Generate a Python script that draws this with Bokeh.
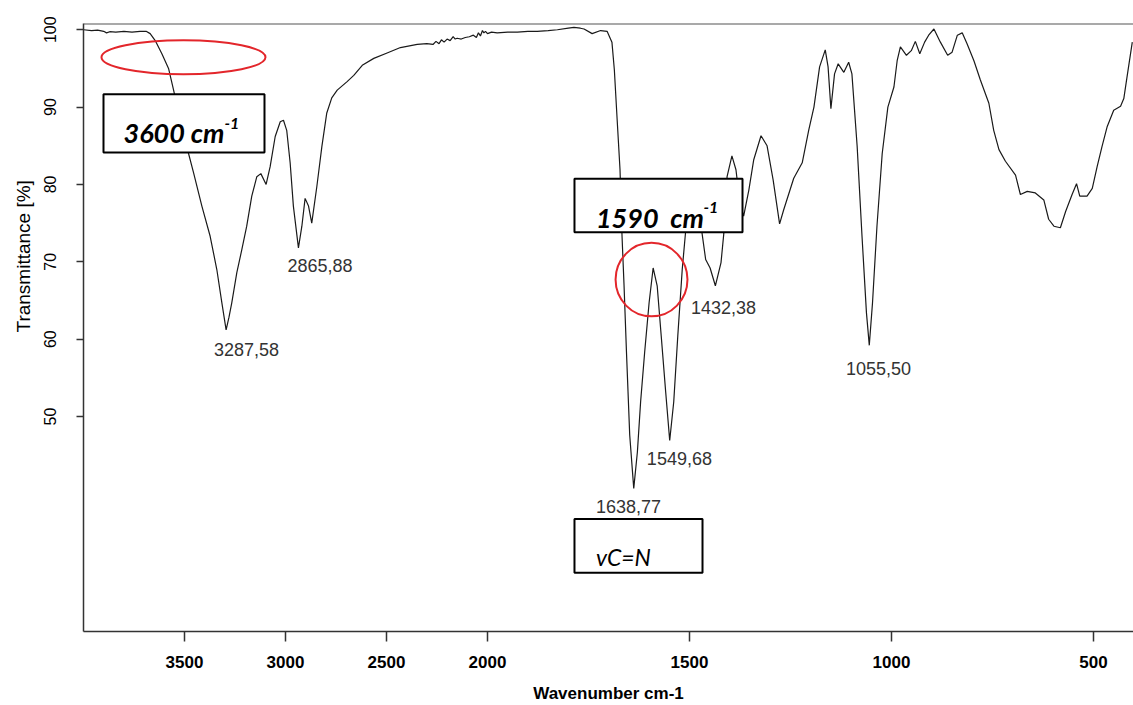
import numpy as np
from bokeh.plotting import figure
from bokeh.models import Range1d, FixedTicker, Span, Title
from bokeh.embed import file_html
from bokeh.resources import INLINE
from bokeh.core.properties import value

# ---------------- data ----------------
wavenumber = [
    4000, 3960, 3930, 3900, 3886, 3870, 3840, 3800, 3760, 3720, 3690, 3670, 3645, 3612, 3579,
    3554, 3521, 3480, 3455, 3414, 3373, 3340, 3315, 3294, 3280, 3266, 3241, 3216, 3192, 3167,
    3142, 3122, 3096, 3076, 3051, 3026, 3010, 2994, 2977, 2961, 2936, 2919, 2903, 2886, 2870,
    2845, 2820, 2796, 2771, 2744, 2695, 2662, 2620, 2563, 2497, 2431, 2348, 2300, 2270, 2255,
    2240, 2228, 2215, 2200, 2185, 2170, 2160, 2150, 2130, 2110, 2090, 2070, 2055, 2045, 2035,
    2025, 2018, 2010, 2000, 1990, 1976, 1950, 1926, 1900, 1877, 1850, 1827, 1800, 1786, 1770,
    1761, 1741, 1720, 1704, 1692, 1686, 1679, 1672, 1667, 1662, 1656, 1648, 1638, 1629, 1621,
    1611, 1600, 1590, 1580, 1570, 1559, 1549, 1539, 1529, 1518, 1510, 1498, 1489, 1480, 1469,
    1460, 1449, 1436, 1422, 1415, 1407, 1395, 1385, 1375, 1366, 1353, 1341, 1323, 1308, 1293,
    1277, 1267, 1242, 1221, 1205, 1192, 1178, 1164, 1157, 1150, 1141, 1132, 1118, 1106, 1098,
    1085, 1073, 1062, 1055, 1047, 1036, 1023, 1009, 994, 986, 978, 963, 951, 941, 930,
    918, 908, 895, 879, 861, 850, 837, 825, 813, 796, 780, 759, 747, 734, 718,
    693, 681, 664, 644, 623, 611, 598, 582, 569, 553, 542, 534, 516, 503, 491,
    479, 466, 450, 433, 425, 417, 404,
]
transmittance = [
    100.0, 99.9, 99.95, 99.8, 99.6, 99.75, 99.7, 99.8, 99.7, 99.8, 99.8, 99.5, 98.6, 96.9, 95.0,
    92.2, 88.3, 84.0, 81.5, 77.2, 73.3, 69.0, 64.7, 61.2, 62.8, 64.7, 68.6, 71.6, 74.6, 78.5,
    81.0, 81.4, 80.0, 82.3, 86.2, 88.1, 88.3, 87.0, 82.8, 77.2, 71.8, 74.6, 78.2, 77.2, 75.0,
    79.7, 84.9, 89.2, 91.2, 92.2, 93.3, 94.1, 95.4, 96.3, 97.0, 97.7, 98.1, 98.2, 98.1, 98.5,
    98.2, 98.7, 98.4, 98.8, 98.6, 99.1, 98.8, 98.9, 98.8, 99.0, 99.1, 99.3, 99.0, 99.6, 99.2,
    99.9, 99.6, 99.8, 99.5, 99.7, 99.6, 99.7, 99.7, 99.8, 99.8, 99.9, 100.0, 100.2, 100.3, 100.2,
    100.1, 99.5, 99.9, 99.8, 98.4, 94.8, 88.3, 81.9, 73.3, 66.9, 58.3, 47.6, 40.7, 45.4, 51.9,
    58.3, 64.7, 69.2, 66.9, 60.4, 53.2, 46.9, 51.9, 60.4, 69.0, 73.7, 78.0, 79.0, 77.5, 73.7,
    70.3, 69.2, 66.9, 69.9, 73.7, 81.0, 83.7, 81.9, 77.5, 75.9, 79.3, 83.2, 86.3, 85.0, 80.6,
    74.9, 76.7, 80.8, 82.8, 87.0, 90.0, 95.2, 97.4, 95.2, 89.8, 94.3, 95.6, 94.5, 95.8, 94.3,
    84.9, 73.3, 63.4, 59.2, 64.7, 74.6, 84.0, 90.0, 92.6, 96.0, 97.8, 96.7, 97.3, 98.5, 96.9,
    98.4, 99.3, 100.1, 98.4, 96.7, 97.1, 99.3, 99.6, 98.2, 96.0, 93.5, 90.5, 87.0, 84.5, 83.0,
    81.2, 78.7, 79.1, 78.9, 78.0, 75.5, 74.6, 74.4, 76.5, 78.7, 80.1, 78.5, 78.5, 79.5, 82.3,
    84.9, 87.5, 89.6, 90.1, 91.1, 93.9, 98.4,
]
peak_labels = ["3287,58", "2865,88", "1432,38", "1549,68", "1638,77", "1055,50"]
peak_label_wn = [3193, 2829, 1416, 1525, 1651, 1032]
peak_label_t = [58.7, 69.5, 64.1, 44.6, 38.3, 56.2]
x_tick_values = [3500, 3000, 2500, 2000, 1500, 1000, 500]
y_tick_values = [50, 60, 70, 80, 90, 100]


def to_axis(w):
    """Instrument axis: region above 2000 cm-1 is drawn at half scale."""
    w = np.asarray(w, dtype=float)
    return np.where(w > 2000, 2000 + (w - 2000) / 2.0, w)


FONT = "Liberation Sans"

p = figure(width=1133, height=705, output_backend="svg", toolbar_location=None,
           x_range=Range1d(3000, 401), y_range=Range1d(22.2, 100.81),
           min_border_left=83, min_border_right=0, min_border_top=23, min_border_bottom=72)
p.grid.visible = False
p.outline_line_color = None
p.background_fill_color = "white"
p.border_fill_color = "white"

# spectrum
p.line(to_axis(wavenumber), transmittance, line_color="#1a1a1a", line_width=1.2)

# top frame line
p.add_layout(Span(location=100.81, dimension="width", line_color="#555555", line_width=2))

# x axis
xt = [int(v) for v in to_axis(x_tick_values)]
p.xaxis.ticker = FixedTicker(ticks=xt)
p.xaxis.major_label_overrides = {u: str(w) for u, w in zip(xt, x_tick_values)}
p.xaxis.axis_label = "Wavenumber cm-1"
p.xaxis.axis_label_text_font = FONT
p.xaxis.axis_label_text_font_style = "bold"
p.xaxis.axis_label_text_font_size = "17px"
p.xaxis.axis_label_text_color = "black"
p.xaxis.axis_label_standoff = 13
p.xaxis.major_label_text_font = FONT
p.xaxis.major_label_text_font_style = "bold"
p.xaxis.major_label_text_font_size = "17px"
p.xaxis.major_label_text_color = "black"
p.xaxis.major_label_standoff = 14
p.xaxis.major_tick_out = 10
p.xaxis.major_tick_in = 0
p.xaxis.minor_tick_line_color = None
p.xaxis.axis_line_color = "#333333"
p.xaxis.axis_line_width = 1.5
p.xaxis.major_tick_line_color = "#333333"
p.xaxis.major_tick_line_width = 1.5

# y axis
p.yaxis.ticker = FixedTicker(ticks=y_tick_values)
p.yaxis.major_label_orientation = "vertical"
p.yaxis.major_label_text_font = FONT
p.yaxis.major_label_text_font_size = "16px"
p.yaxis.major_label_text_color = "black"
p.yaxis.major_label_standoff = 20
p.yaxis.major_tick_out = 7
p.yaxis.major_tick_in = 0
p.yaxis.minor_tick_line_color = None
p.yaxis.axis_line_color = "#333333"
p.yaxis.axis_line_width = 1.5
p.yaxis.major_tick_line_color = "#333333"
p.yaxis.major_tick_line_width = 1.5

# y axis title (placed off-centre, as in the original)
p.add_layout(Title(text="Transmittance [%]", align="left", offset=299, standoff=16,
                   text_font=FONT, text_font_size="19px", text_font_style="normal",
                   text_color="black"), "left")

# peak labels
p.text(x=to_axis(peak_label_wn), y=peak_label_t, text=peak_labels,
       text_align="center", text_baseline="middle",
       text_font=value(FONT), text_font_size="18px", text_color="#333333")

# red highlight marks
p.ellipse(x=[2752.5], y=[96.44], width=[406], height=[4.38],
          fill_color=None, line_color="#e3262b", line_width=2)
p.ellipse(x=[1594], y=[67.7], width=[178], height=[9.52],
          fill_color=None, line_color="#e3262b", line_width=2)

# annotation boxes (white, cover the trace)
p.quad(left=[2950.5, 1784.7, 1784.7], right=[2552, 1368.8, 1467.8],
       top=[91.67, 80.73, 36.76], bottom=[84.12, 73.82, 29.81],
       fill_color="white", line_color="black", line_width=2)

BOXFONT = "Lato"
p.text(x=[2901, 1731.7], y=[86.69, 75.68], text=["3600 cm", "1590\u00a0 cm"],
       text_align="left", text_baseline="alphabetic",
       text_font=value(BOXFONT), text_font_style="bold italic",
       text_font_size="27px", text_color="black")
p.text(x=[2651, 1465.3], y=[87.94, 77.0], text=["-1", "-1"],
       text_align="left", text_baseline="alphabetic",
       text_font=value(BOXFONT), text_font_style="bold italic",
       text_font_size="16px", text_color="black")
p.text(x=[1731.7], y=[31.79], text=["vC=N"],
       text_align="left", text_baseline="alphabetic",
       text_font=value(BOXFONT), text_font_style="italic",
       text_font_size="23px", text_color="black")

open("out.html", "w").write(file_html(p, INLINE))
